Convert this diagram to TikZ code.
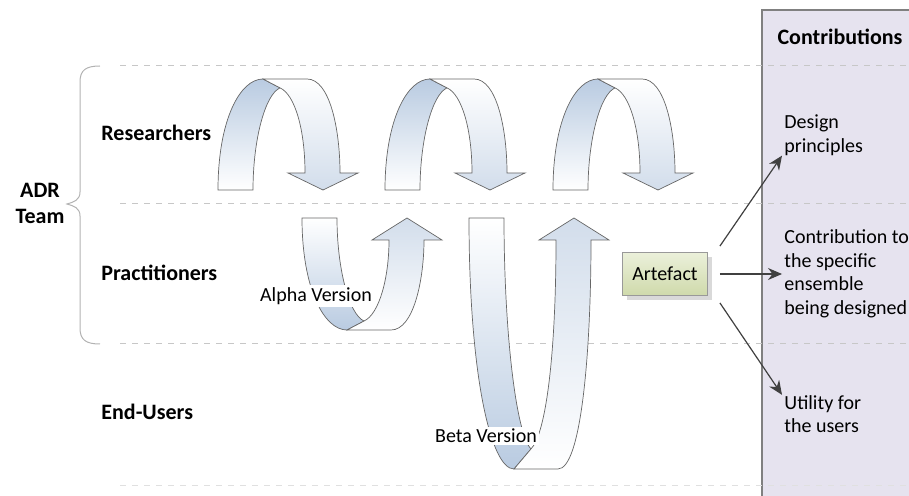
\documentclass[tikz,border=0pt]{standalone}
\usepackage{fontspec}
\setmainfont{Carlito}
\usepackage{tikz}
\usetikzlibrary{positioning, arrows.meta, shadows}

\definecolor{bandblue}{HTML}{B9CBE1}
\definecolor{headblue}{HTML}{D2DDEB}
\definecolor{lavender}{HTML}{E6E3EF}
\definecolor{artgreen}{HTML}{CFDAAB}
\definecolor{artlight}{HTML}{EBF0DA}

% one turning ribbon arrow: x of left leg, y of leg ends, signed height, signed head height,
% shading of the left band, shading of the right band
\newcommand{\ribbon}[6]{
  \path[band, #5] (#1,#2) .. controls (#1,{#2+0.63*(#3)}) and ({#1+22},{#2+#3}) .. ({#1+45},{#2+#3})
    -- ({#1+62},{#2+0.92*(#3)}) .. controls ({#1+47},{#2+0.86*(#3)}) and ({#1+35},{#2+0.45*(#3)}) .. ({#1+35},#2)
    -- cycle;
  \path[band, #6] ({#1+45},{#2+#3}) -- ({#1+89},{#2+#3})
    .. controls ({#1+112},{#2+#3}) and ({#1+122},{#2+0.54*(#3)}) .. ({#1+122},{#2+#4})
    -- ({#1+140},{#2+#4}) -- ({#1+105},#2) -- ({#1+70},{#2+#4}) -- ({#1+87},{#2+#4})
    .. controls ({#1+87},{#2+0.54*(#3)}) and ({#1+77},{#2+0.86*(#3)}) .. ({#1+62},{#2+0.92*(#3)})
    -- cycle;
}

\begin{document}
\begin{tikzpicture}[x=0.5pt, y=-0.5pt,
    band/.style={draw=black!60, line width=0.35pt},
    rowlabel/.style={font=\fontsize{11}{13}\selectfont\bfseries, anchor=west, inner sep=0pt},
    contrib/.style={font=\fontsize{10}{11.75}\selectfont, align=left, anchor=west, inner sep=0pt},
    version/.style={font=\fontsize{10}{12}\selectfont, fill=white, inner sep=1pt},
    lane/.style={draw=black!22, dashed, line width=0.5pt},
    outarrow/.style={draw=black!75, line width=0.6pt, -{Stealth[length=7pt, width=6pt]}}]
  \useasboundingbox (0,0) rectangle (909,496);

  % contributions column
  \fill[lavender] (762,10) rectangle (915,500);
  \draw[black!50, line width=0.6pt] (762,500) -- (762,10) -- (915,10);

  % lanes
  \draw[lane] (120,66) -- (909,66);
  \draw[lane] (120,204) -- (909,204);
  \draw[lane] (120,344) -- (909,344);
  \draw[lane, draw=black!12] (120,485) -- (909,485);

  % brace of the team
  \draw[black!30, line width=0.5pt] (100,66) .. controls (86,66) and (80,70) .. (80,82)
    -- (80,192) .. controls (80,200) and (74,202) .. (67,204)
    .. controls (74,206) and (80,208) .. (80,216)
    -- (80,328) .. controls (80,340) and (86,344) .. (100,344);

  \node[font=\fontsize{11}{13}\selectfont\bfseries, align=center] (team) at (40,203) {ADR\\Team};
  \node[rowlabel] (res) at (101,133) {Researchers};
  \node[rowlabel, below=70pt of res.west, anchor=west] (prac) {Practitioners};
  \node[rowlabel, below=69.5pt of prac.west, anchor=west] (end) {End-Users};

  % iterations
  \foreach \xo in {218, 385, 553}
    \ribbon{\xo}{190}{-111}{-17}{top color=bandblue, bottom color=white}{top color=white, bottom color=headblue};
  \ribbon{302}{218}{112}{22}{top color=white, bottom color=bandblue}{top color=headblue, bottom color=white}
  \ribbon{469}{218}{251}{22}{top color=white, bottom color=bandblue}{top color=headblue, bottom color=white}

  \node[version] (alpha) at (316,296) {Alpha Version};
  \node[version] (beta) at (486,436) {Beta Version};

  % artefact and contributions
  \node[draw=black!40, top color=artlight, bottom color=artgreen, drop shadow={opacity=0.3},
        minimum width=42.5pt, minimum height=21.5pt, font=\fontsize{10}{12}\selectfont] (art) at (665,274) {Artefact};

  \node[font=\fontsize{11}{13}\selectfont\bfseries] (contrib) at (840,37) {Contributions};
  \node[contrib] (design) at (784,135) {Design\\principles};
  \node[contrib] (ensemble) at (784,274) {Contribution to\\the specific\\ensemble\\being designed};
  \node[contrib] (utility) at (784,414) {Utility for\\the users};

  \draw[outarrow] ([shift={(12,-6)}]art.north east) -- ([shift={(-2,0)}]design.south west);
  \draw[outarrow] ([shift={(12,0)}]art.east) -- ([shift={(-2,0)}]ensemble.west);
  \draw[outarrow] ([shift={(12,7)}]art.south east) -- ([shift={(-2,0)}]utility.north west);
\end{tikzpicture}
\end{document}
